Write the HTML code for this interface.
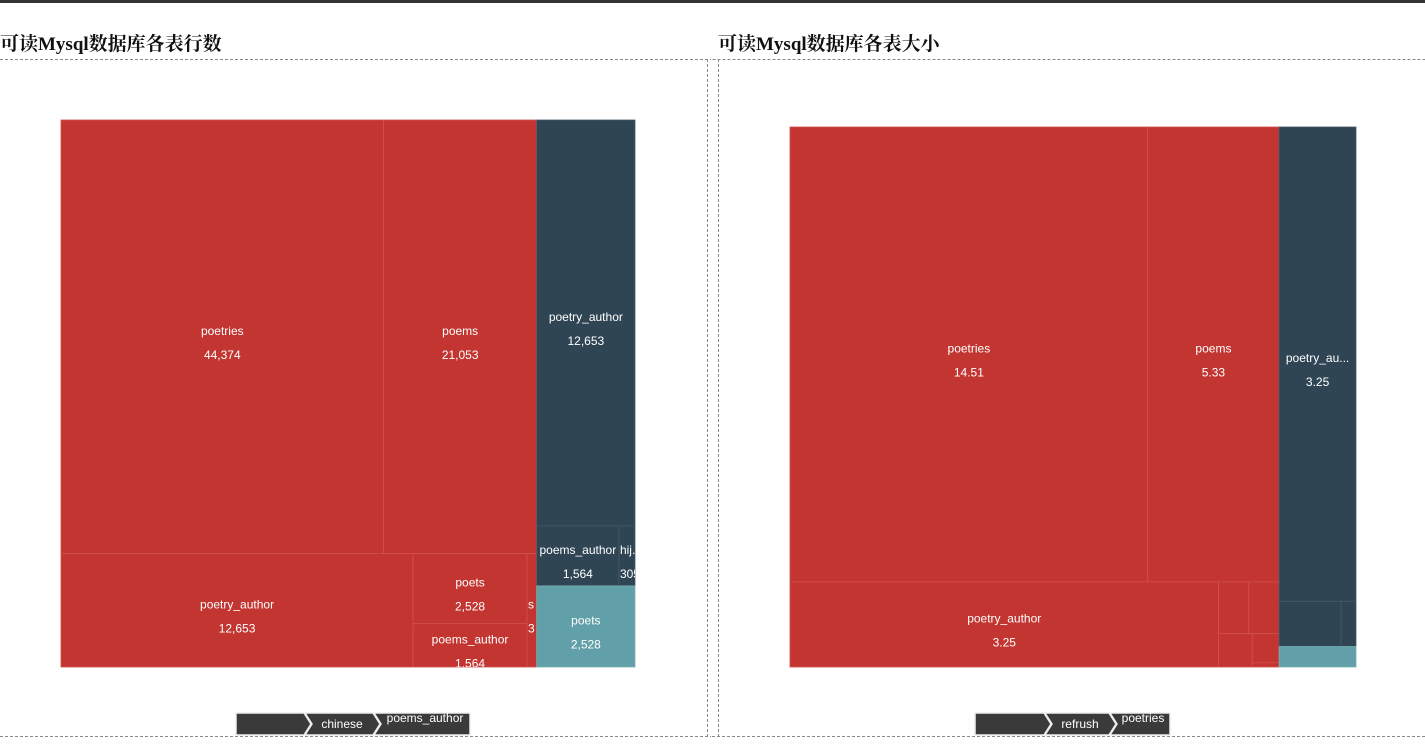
<!DOCTYPE html>
<html><head><meta charset="utf-8"><style>
html,body{margin:0;padding:0;background:#fff;width:1425px;height:746px;overflow:hidden;position:relative}
.t{position:absolute;top:29px;font:bold 19px "Liberation Serif","Noto Serif CJK SC",serif;color:#111;margin:0}
</style></head><body>
<div style="position:absolute;left:0;top:0;width:1425px;height:3px;background:#333"></div>
<h3 class="t" style="left:0">可读Mysql数据库各表行数</h3>
<h3 class="t" style="left:718px">可读Mysql数据库各表大小</h3>
<svg id="svg" width="1425" height="746" style="position:absolute;left:0;top:0">
<g stroke="#888" stroke-dasharray="3,2" stroke-width="1" fill="none">
<line x1="0" y1="59.5" x2="711" y2="59.5"/><line x1="707.5" y1="59" x2="707.5" y2="737"/>
<line x1="0" y1="736.5" x2="711" y2="736.5"/>
<line x1="712.5" y1="59.5" x2="1425" y2="59.5"/><line x1="718.5" y1="59" x2="718.5" y2="737"/>
<line x1="712" y1="736.5" x2="1425" y2="736.5"/>
</g>
</svg>
<script>
// ---- data (left: row counts) ----
const leftNames=["poetries","poems","poetry_author","poets","poems_author","s","poetry_author","poems_author","hij","poets"];
const leftValues=[44374,21053,12653,2528,1564,350,12653,1564,305,2528];
// ---- data (right: sizes MB) ----
const rightNames=["poetries","poems","poetry_author","a","b","c","d","e","poetry_author","f","g","poets"];
const rightValues=[14.51,5.33,3.25,0.14,0.14,0.1,0.07,0.01,3.25,0.25,0.06,0.14];

const C={red:"#c23531",dark:"#2f4554",teal:"#61a0a8"};
const SC={red:"#d1504c",dark:"#46596a",teal:"#7ab0b6"};
function leaf(i,col,lab,vlab){return {i,col,lab,vlab};}
const leftTree={d:"h",c:[
 {d:"v",c:[{d:"h",c:[leaf(0,"red"),leaf(1,"red")]},
   {d:"h",c:[leaf(2,"red"),{d:"v",c:[leaf(3,"red"),leaf(4,"red")]},leaf(5,"red","s","3")]}]},
 {d:"v",c:[leaf(6,"dark"),{d:"h",c:[leaf(7,"dark"),leaf(8,"dark","hij..")]},leaf(9,"teal")]}]};
const rightTree={d:"h",c:[
 {d:"v",c:[{d:"h",c:[leaf(0,"red"),leaf(1,"red")]},
   {d:"h",c:[leaf(2,"red"),{d:"v",c:[{d:"h",c:[leaf(3,"red",""),leaf(4,"red","")]},{d:"h",c:[leaf(5,"red",""),{d:"v",c:[leaf(6,"red",""),leaf(7,"red","")]}]}]}]}]},
 {d:"v",c:[leaf(8,"dark","poetry_au..."),{d:"h",c:[leaf(9,"dark",""),leaf(10,"dark","")]},leaf(11,"teal","")]}]};

const NS="http://www.w3.org/2000/svg";
const svg=document.getElementById("svg");
function sum(n,vals){return n.c?n.c.reduce((a,b)=>a+sum(b,vals),0):vals[n.i];}
let cid=0;
function layout(n,x,y,w,h,vals,out){
 if(!n.c){out.push({n,x,y,w,h});return;}
 const tot=sum(n,vals);let p=0;
 n.c.forEach(ch=>{const f=sum(ch,vals)/tot;
  if(n.d==="h"){layout(ch,x+p*w,y,f*w,h,vals,out);}else{layout(ch,x,y+p*h,w,f*h,vals,out);}
  p+=f;});
}
function draw(tree,x,y,w,h,vals,names,fmt,prefix){
 const out=[];layout(tree,x,y,w,h,vals,out);
 out.forEach(r=>{
  const g=document.createElementNS(NS,"g");
  
  
  const id="cp"+(cid++);
  const cp=document.createElementNS(NS,"clipPath");cp.setAttribute("id",id);
  const cr=document.createElementNS(NS,"rect");
  cr.setAttribute("x",r.x);cr.setAttribute("y",r.y);cr.setAttribute("width",r.w);cr.setAttribute("height",r.h);
  cp.appendChild(cr);g.appendChild(cp);
  const rc=document.createElementNS(NS,"rect");
  rc.setAttribute("x",r.x);rc.setAttribute("y",r.y);rc.setAttribute("width",r.w);rc.setAttribute("height",r.h);
  rc.setAttribute("fill",C[r.n.col]);rc.setAttribute("stroke",SC[r.n.col]);rc.setAttribute("stroke-width","0.8");
  g.appendChild(rc);
  const lab=r.n.lab!==undefined?r.n.lab:names[r.n.i];
  if(lab!==""){
   const narrow=r.n.lab!==undefined&&r.w<30;
   const cx=narrow?r.x+1:r.x+r.w/2, cy=r.y+r.h/2;
   const tg=document.createElementNS(NS,"g");tg.setAttribute("clip-path","url(#"+id+")");
   const vs=r.n.vlab!==undefined?r.n.vlab:fmt(vals[r.n.i]);
   [[lab,cy-2],[vs,cy+22]].forEach(([s,yy],k)=>{
    const t=document.createElementNS(NS,"text");
    
    
    t.setAttribute("x",cx);t.setAttribute("y",yy);t.setAttribute("text-anchor",narrow?"start":"middle");
    t.setAttribute("fill","#fff");t.setAttribute("font-size","12");t.setAttribute("font-family","Liberation Sans, sans-serif");
    t.textContent=s;tg.appendChild(t);});
   g.appendChild(tg);
  }
  svg.appendChild(g);
 });
}
draw(leftTree,61,120,574,547,leftValues,leftNames,v=>v.toLocaleString("en-US"),"rows");
draw(rightTree,790,127,566,540,rightValues,rightNames,v=>v.toFixed(2),"size");

function crumbs(x0,items,prefix){
 let x=x0;
 items.forEach((it,k)=>{
  const g=document.createElementNS(NS,"g");
  
  
  const y=713,h=22,w=it.w;
  const p=document.createElementNS(NS,"path");
  const left=k===0?`M${x},${y} L${x},${y+h}`:`M${x},${y} L${x+7},${y+h/2} L${x},${y+h}`;
  const right=k===items.length-1?`L${x+w},${y+h} L${x+w},${y}`:`L${x+w},${y+h} L${x+w+7},${y+h/2} L${x+w},${y}`;
  p.setAttribute("d",left+" "+right+" Z");
  p.setAttribute("fill","#3a3a3a");p.setAttribute("stroke","#eee");p.setAttribute("stroke-width","1.5");
  g.appendChild(p);
  if(it.t){const t=document.createElementNS(NS,"text");
   
   
   t.setAttribute("x",x+w/2+3);t.setAttribute("y",k===items.length-1?722:728);t.setAttribute("text-anchor","middle");
   t.setAttribute("fill","#fff");t.setAttribute("font-size","12");t.setAttribute("font-family","Liberation Sans, sans-serif");
   t.textContent=it.t;g.appendChild(t);}
  svg.appendChild(g);x+=w+1;
 });
}
crumbs(236,[{t:"",w:68},{t:"chinese",w:68},{t:"poems_author",w:96}],"rows");
crumbs(975,[{t:"",w:69},{t:"refrush",w:64},{t:"poetries",w:60}],"size");
</script>
</body></html>
